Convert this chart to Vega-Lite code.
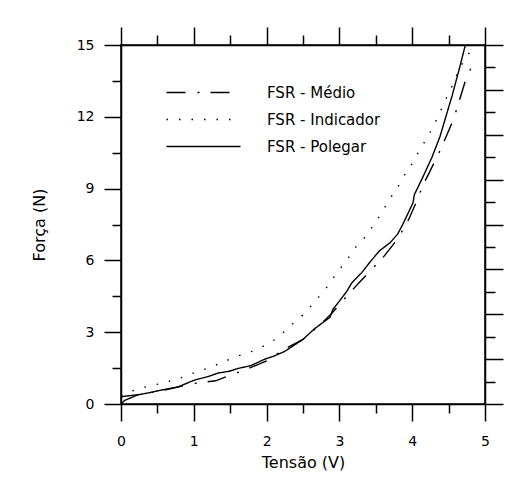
{
  "$schema": "https://vega.github.io/schema/vega-lite/v6.json",
  "autosize": {"type": "none"},
  "padding": {"left": 121, "top": 45, "right": 27, "bottom": 86},
  "width": 364,
  "height": 359,
  "background": "white",
  "config": {
    "view": {"stroke": "black", "strokeWidth": 1.5},
    "axis": {
      "grid": false,
      "domainColor": "black",
      "domainWidth": 1.5,
      "tickColor": "black",
      "tickWidth": 1.5,
      "labelColor": "black",
      "labelFont": "DejaVu Sans",
      "labelFontSize": 14,
      "titleFont": "DejaVu Sans",
      "titleFontSize": 16,
      "titleFontWeight": "normal",
      "titleColor": "black",
      "labelFlush": false,
      "labelOverlap": false
    },
    "legend": {
      "labelFont": "DejaVu Sans",
      "labelFontSize": 15,
      "labelColor": "black"
    }
  },
  "datasets": {
    "curves": [
      {"s": "FSR - Médio", "V": 0.0, "F": 0.3},
      {"s": "FSR - Médio", "V": 0.3, "F": 0.42},
      {"s": "FSR - Médio", "V": 0.6, "F": 0.58},
      {"s": "FSR - Médio", "V": 0.9, "F": 0.8},
      {"s": "FSR - Médio", "V": 1.1, "F": 0.9},
      {"s": "FSR - Médio", "V": 1.3, "F": 0.97},
      {"s": "FSR - Médio", "V": 1.5, "F": 1.2},
      {"s": "FSR - Médio", "V": 1.7, "F": 1.42},
      {"s": "FSR - Médio", "V": 2.0, "F": 1.8},
      {"s": "FSR - Médio", "V": 2.25, "F": 2.3},
      {"s": "FSR - Médio", "V": 2.5, "F": 2.7},
      {"s": "FSR - Médio", "V": 2.73, "F": 3.3},
      {"s": "FSR - Médio", "V": 2.9, "F": 3.8},
      {"s": "FSR - Médio", "V": 3.07, "F": 4.4},
      {"s": "FSR - Médio", "V": 3.25, "F": 5.0},
      {"s": "FSR - Médio", "V": 3.42, "F": 5.55},
      {"s": "FSR - Médio", "V": 3.62, "F": 6.2},
      {"s": "FSR - Médio", "V": 3.8, "F": 6.9},
      {"s": "FSR - Médio", "V": 3.95, "F": 7.7},
      {"s": "FSR - Médio", "V": 4.08, "F": 8.6},
      {"s": "FSR - Médio", "V": 4.14, "F": 9.1},
      {"s": "FSR - Médio", "V": 4.24, "F": 9.7},
      {"s": "FSR - Médio", "V": 4.32, "F": 10.2},
      {"s": "FSR - Médio", "V": 4.4, "F": 10.7},
      {"s": "FSR - Médio", "V": 4.47, "F": 11.2},
      {"s": "FSR - Médio", "V": 4.54, "F": 11.7},
      {"s": "FSR - Médio", "V": 4.61, "F": 12.3},
      {"s": "FSR - Médio", "V": 4.67, "F": 12.9},
      {"s": "FSR - Médio", "V": 4.72, "F": 13.4},
      {"s": "FSR - Médio", "V": 4.77, "F": 13.8},
      {"s": "FSR - Médio", "V": 4.81, "F": 14.05},
      {"s": "FSR - Médio", "V": 4.84, "F": 14.2},

      {"s": "FSR - Indicador", "V": 0.0, "F": 0.35},
      {"s": "FSR - Indicador", "V": 0.07, "F": 0.46},
      {"s": "FSR - Indicador", "V": 0.27, "F": 0.67},
      {"s": "FSR - Indicador", "V": 0.45, "F": 0.79},
      {"s": "FSR - Indicador", "V": 0.63, "F": 0.92},
      {"s": "FSR - Indicador", "V": 0.82, "F": 1.09},
      {"s": "FSR - Indicador", "V": 1.0, "F": 1.3},
      {"s": "FSR - Indicador", "V": 1.2, "F": 1.5},
      {"s": "FSR - Indicador", "V": 1.4, "F": 1.75},
      {"s": "FSR - Indicador", "V": 1.6, "F": 2.0},
      {"s": "FSR - Indicador", "V": 1.8, "F": 2.2},
      {"s": "FSR - Indicador", "V": 1.98, "F": 2.45},
      {"s": "FSR - Indicador", "V": 2.14, "F": 2.74},
      {"s": "FSR - Indicador", "V": 2.28, "F": 3.13},
      {"s": "FSR - Indicador", "V": 2.41, "F": 3.5},
      {"s": "FSR - Indicador", "V": 2.55, "F": 3.84},
      {"s": "FSR - Indicador", "V": 2.65, "F": 4.26},
      {"s": "FSR - Indicador", "V": 2.77, "F": 4.64},
      {"s": "FSR - Indicador", "V": 2.88, "F": 5.1},
      {"s": "FSR - Indicador", "V": 2.98, "F": 5.56},
      {"s": "FSR - Indicador", "V": 3.1, "F": 5.98},
      {"s": "FSR - Indicador", "V": 3.2, "F": 6.48},
      {"s": "FSR - Indicador", "V": 3.31, "F": 6.8},
      {"s": "FSR - Indicador", "V": 3.39, "F": 7.15},
      {"s": "FSR - Indicador", "V": 3.5, "F": 7.6},
      {"s": "FSR - Indicador", "V": 3.6, "F": 8.1},
      {"s": "FSR - Indicador", "V": 3.69, "F": 8.56},
      {"s": "FSR - Indicador", "V": 3.79, "F": 9.0},
      {"s": "FSR - Indicador", "V": 3.88, "F": 9.5},
      {"s": "FSR - Indicador", "V": 3.99, "F": 10.0},
      {"s": "FSR - Indicador", "V": 4.1, "F": 10.6},
      {"s": "FSR - Indicador", "V": 4.2, "F": 11.1},
      {"s": "FSR - Indicador", "V": 4.29, "F": 11.6},
      {"s": "FSR - Indicador", "V": 4.37, "F": 12.1},
      {"s": "FSR - Indicador", "V": 4.44, "F": 12.6},
      {"s": "FSR - Indicador", "V": 4.53, "F": 13.16},
      {"s": "FSR - Indicador", "V": 4.62, "F": 13.8},
      {"s": "FSR - Indicador", "V": 4.7, "F": 14.3},
      {"s": "FSR - Indicador", "V": 4.78, "F": 14.65},
      {"s": "FSR - Indicador", "V": 4.84, "F": 14.5},

      {"s": "FSR - Polegar", "V": 0.0, "F": 0.0},
      {"s": "FSR - Polegar", "V": 0.05, "F": 0.15},
      {"s": "FSR - Polegar", "V": 0.23, "F": 0.38},
      {"s": "FSR - Polegar", "V": 0.4, "F": 0.48},
      {"s": "FSR - Polegar", "V": 0.55, "F": 0.58},
      {"s": "FSR - Polegar", "V": 0.78, "F": 0.71},
      {"s": "FSR - Polegar", "V": 1.01, "F": 1.0},
      {"s": "FSR - Polegar", "V": 1.2, "F": 1.15},
      {"s": "FSR - Polegar", "V": 1.33, "F": 1.29},
      {"s": "FSR - Polegar", "V": 1.49, "F": 1.37},
      {"s": "FSR - Polegar", "V": 1.6, "F": 1.48},
      {"s": "FSR - Polegar", "V": 1.78, "F": 1.6},
      {"s": "FSR - Polegar", "V": 1.98, "F": 1.88},
      {"s": "FSR - Polegar", "V": 2.1, "F": 2.0},
      {"s": "FSR - Polegar", "V": 2.25, "F": 2.2},
      {"s": "FSR - Polegar", "V": 2.5, "F": 2.7},
      {"s": "FSR - Polegar", "V": 2.66, "F": 3.15},
      {"s": "FSR - Polegar", "V": 2.87, "F": 3.62},
      {"s": "FSR - Polegar", "V": 2.91, "F": 3.95},
      {"s": "FSR - Polegar", "V": 3.0, "F": 4.3},
      {"s": "FSR - Polegar", "V": 3.1, "F": 4.7},
      {"s": "FSR - Polegar", "V": 3.17, "F": 5.06},
      {"s": "FSR - Polegar", "V": 3.31, "F": 5.5},
      {"s": "FSR - Polegar", "V": 3.42, "F": 5.93},
      {"s": "FSR - Polegar", "V": 3.55, "F": 6.4},
      {"s": "FSR - Polegar", "V": 3.7, "F": 6.75},
      {"s": "FSR - Polegar", "V": 3.8, "F": 7.1},
      {"s": "FSR - Polegar", "V": 3.87, "F": 7.5},
      {"s": "FSR - Polegar", "V": 4.01, "F": 8.4},
      {"s": "FSR - Polegar", "V": 4.03, "F": 8.75},
      {"s": "FSR - Polegar", "V": 4.14, "F": 9.44},
      {"s": "FSR - Polegar", "V": 4.27, "F": 10.3},
      {"s": "FSR - Polegar", "V": 4.38, "F": 11.16},
      {"s": "FSR - Polegar", "V": 4.47, "F": 12.08},
      {"s": "FSR - Polegar", "V": 4.55, "F": 12.9},
      {"s": "FSR - Polegar", "V": 4.65, "F": 14.04},
      {"s": "FSR - Polegar", "V": 4.73, "F": 15.0}
    ]
  },
  "data": {"name": "curves"},
  "layer": [
    {
      "mark": {"type": "line", "color": "black", "strokeWidth": 1.4, "strokeCap": "butt", "clip": true},
      "encoding": {
        "x": {
          "field": "V", "type": "quantitative",
          "scale": {"domain": [0, 5], "nice": false, "zero": false},
          "axis": {
            "orient": "bottom",
            "title": "Tensão (V)",
            "values": [0, 1, 2, 3, 4, 5],
            "format": "d",
            "tickSize": 17,
            "labelPadding": 13,
            "titlePadding": 6
          }
        },
        "y": {
          "field": "F", "type": "quantitative",
          "scale": {"domain": [0, 15], "nice": false, "zero": false},
          "axis": {
            "orient": "left",
            "title": "Força (N)",
            "values": [0, 3, 6, 9, 12, 15],
            "format": "d",
            "tickSize": 17,
            "labelPadding": 10,
            "titlePadding": 29
          }
        },
        "strokeDash": {
          "field": "s", "type": "nominal",
          "scale": {
            "domain": ["FSR - Médio", "FSR - Indicador", "FSR - Polegar"],
            "range": [[19, 12, 2, 11], [1.5, 11], [1, 0]]
          },
          "legend": {
            "title": null,
            "orient": "none",
            "legendX": 75,
            "legendY": 40,
            "padding": 0,
            "symbolType": "M-7.4,0H7.4",
            "symbolSize": 100,
            "symbolStrokeColor": "black",
            "symbolStrokeWidth": 1.3,
            "symbolFillColor": "transparent",
            "labelOffset": 56,
            "rowPadding": 11
          }
        }
      }
    },
    {
      "mark": {"type": "point", "opacity": 0},
      "encoding": {
        "x": {
          "field": "V", "type": "quantitative",
          "scale": {"domain": [0, 5], "nice": false, "zero": false},
          "axis": {
            "orient": "bottom", "title": null, "labels": false, "domain": false,
            "values": [0.5, 1.5, 2.5, 3.5, 4.5],
            "tickSize": 9
          }
        },
        "y": {
          "field": "F", "type": "quantitative",
          "scale": {"domain": [0, 15], "nice": false, "zero": false},
          "axis": {
            "orient": "left", "title": null, "labels": false, "domain": false,
            "values": [1.5, 4.5, 7.5, 10.5, 13.5],
            "tickSize": 9
          }
        }
      }
    },
    {
      "mark": {"type": "point", "opacity": 0},
      "encoding": {
        "x": {
          "field": "V", "type": "quantitative",
          "scale": {"domain": [0, 5], "nice": false, "zero": false},
          "axis": {
            "orient": "top", "title": null, "labels": false,
            "values": [0, 1, 2, 3, 4, 5],
            "tickSize": 18
          }
        },
        "y": {
          "field": "F", "type": "quantitative",
          "scale": {"domain": [0, 16], "nice": false, "zero": false},
          "axis": {
            "orient": "right", "title": null, "labels": false,
            "values": [0, 2, 4, 6, 8, 10, 12, 14, 16],
            "tickSize": 18
          }
        }
      }
    },
    {
      "mark": {"type": "point", "opacity": 0},
      "encoding": {
        "x": {
          "field": "V", "type": "quantitative",
          "scale": {"domain": [0, 5], "nice": false, "zero": false},
          "axis": {
            "orient": "top", "title": null, "labels": false, "domain": false,
            "values": [0.5, 1.5, 2.5, 3.5, 4.5],
            "tickSize": 10
          }
        },
        "y": {
          "field": "F", "type": "quantitative",
          "scale": {"domain": [0, 16], "nice": false, "zero": false},
          "axis": {
            "orient": "right", "title": null, "labels": false, "domain": false,
            "values": [1, 3, 5, 7, 9, 11, 13, 15],
            "tickSize": 10
          }
        }
      }
    }
  ],
  "resolve": {"scale": {"x": "independent", "y": "independent"}}
}
